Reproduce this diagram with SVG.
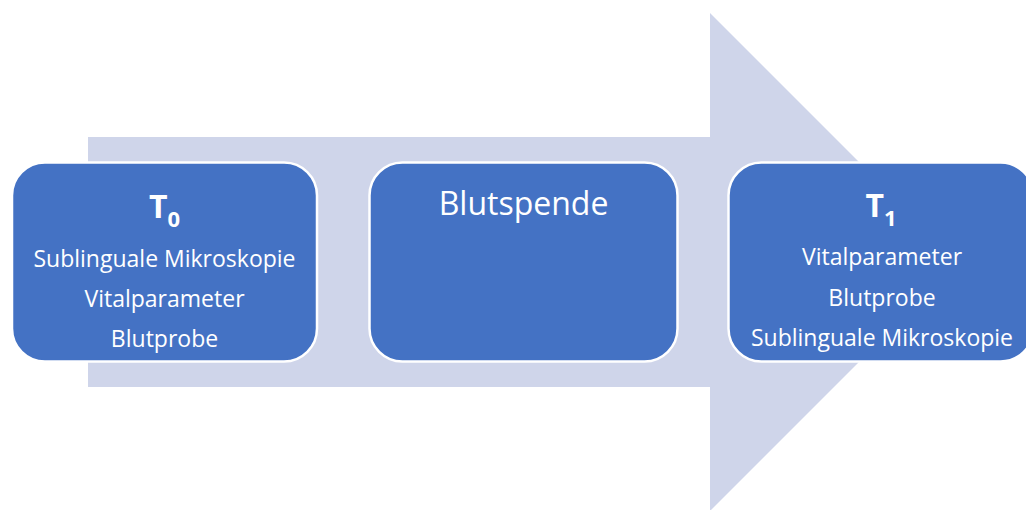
<svg xmlns="http://www.w3.org/2000/svg" width="1026" height="510" viewBox="0 0 1026 510">
<style>
.box{fill:#4472C4;stroke:#FFFFFF;stroke-width:2.5}
.t{font-family:"Open Sans","Liberation Sans",sans-serif;fill:#FFFFFF;text-anchor:middle}
.ln{font-size:23px}
.hd{font-size:32px;font-weight:bold}
.sub{font-size:22px;font-weight:bold}
.big{font-size:32px}
</style>
<rect width="1026" height="510" fill="#FFFFFF"/>
<g id="arrow">
<polygon points="88,137 710,137 710,13 959,262 710,511 710,387 88,387" fill="#CFD5EA"/>
</g>
<g id="connectors"></g>
<g id="node-t0">
<rect class="box" x="12" y="162.5" width="305" height="199" rx="33" ry="33"/>
<text class="t hd" x="164.5" y="218">T<tspan class="sub" dy="9">0</tspan></text>
<text class="t ln" x="164.5" y="267">Sublinguale Mikroskopie</text>
<text class="t ln" x="164.5" y="307">Vitalparameter</text>
<text class="t ln" x="164.5" y="347">Blutprobe</text>
</g>
<g id="node-blutspende">
<rect class="box" x="369.5" y="162.5" width="308" height="199" rx="33" ry="33"/>
<text class="t big" x="523.5" y="215">Blutspende</text>
</g>
<g id="node-t1">
<rect class="box" x="728.5" y="162.5" width="305" height="199" rx="33" ry="33"/>
<text class="t hd" x="881" y="217">T<tspan class="sub" dy="9">1</tspan></text>
<text class="t ln" x="882" y="265">Vitalparameter</text>
<text class="t ln" x="882" y="306">Blutprobe</text>
<text class="t ln" x="882" y="346">Sublinguale Mikroskopie</text>
</g>
</svg>
